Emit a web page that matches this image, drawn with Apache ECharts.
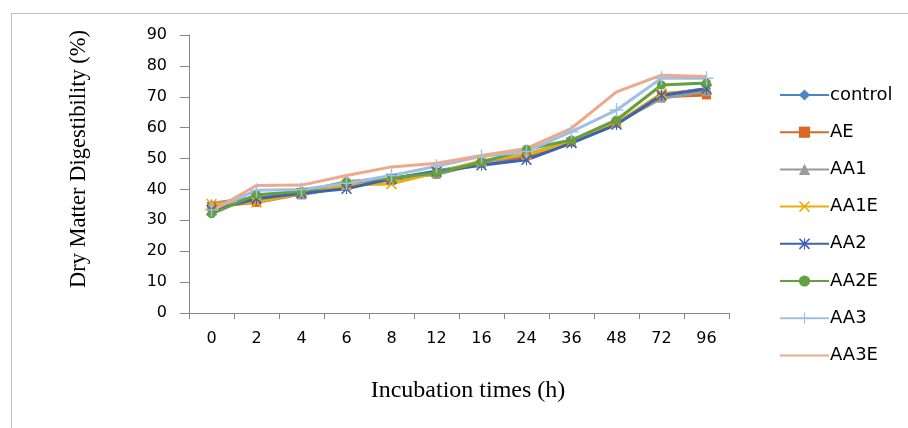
<!DOCTYPE html>
<html><head><meta charset="utf-8">
<script src="https://cdn.jsdelivr.net/npm/echarts@6/dist/echarts.min.js"></script>
<style>html,body{margin:0;padding:0;background:#fff}#c{width:908px;height:428px}</style>
</head><body><div id="c"></div>
<script>
const categories = ['0','2','4','6','8','12','16','24','36','48','72','96'];
const control = [33.5, 37.0, 39.0, 41.0, 43.5, 46.0, 48.5, 50.5, 55.5, 61.4, 70.6, 72.7];
const AE      = [34.5, 35.8, 38.5, 41.5, 43.0, 45.5, 48.5, 51.0, 55.3, 61.5, 70.0, 70.6];
const AA1     = [35.5, 37.5, 38.2, 41.0, 43.5, 44.8, 48.5, 51.5, 55.5, 61.5, 69.5, 71.7];
const AA1E    = [35.3, 35.8, 38.8, 41.5, 41.8, 45.5, 49.3, 51.3, 55.3, 61.5, 71.1, 72.2];
const AA2     = [33.3, 37.0, 38.8, 40.2, 43.5, 45.8, 47.8, 49.6, 55.0, 61.0, 70.5, 72.5];
const AA2E    = [32.1, 38.3, 39.3, 42.5, 43.7, 45.3, 48.8, 53.0, 56.0, 62.5, 73.8, 74.5];
const AA3     = [33.4, 39.7, 40.0, 42.0, 44.5, 47.5, 50.7, 52.3, 58.7, 65.7, 76.0, 76.0];
const AA3E    = [33.0, 41.3, 41.4, 44.5, 47.3, 48.5, 51.0, 53.3, 59.8, 71.6, 77.0, 76.6];
const yTicks = [0,10,20,30,40,50,60,70,80,90];

const X_PATH = 'path://M0,1L1,0L10,9L9,10Z M9,0L10,1L1,10L0,9Z';
const STAR_PATH = 'path://M0,1L1,0L10,9L9,10Z M9,0L10,1L1,10L0,9Z M4.5,0L5.5,0L5.5,10L4.5,10Z';
const PLUS_PATH = 'path://M4.5,0L5.5,0L5.5,10L4.5,10Z M0,4.5L10,4.5L10,5.5L0,5.5Z';

const seriesDefs = [
  ['control', control, '#4a86c5', 'diamond', 9],
  ['AE', AE, '#d96a26', 'rect', 9],
  ['AA1', AA1, '#9a9a9a', 'triangle', 9],
  ['AA1E', AA1E, '#e9ad0c', X_PATH, 11],
  ['AA2', AA2, '#3b63b2', STAR_PATH, 11],
  ['AA2E', AA2E, '#63a03f', 'circle', 9],
  ['AA3', AA3, '#9fc0e4', PLUS_PATH, 14],
  ['AA3E', AA3E, '#f0a88c', 'circle', 0]
];

const chart = echarts.init(document.getElementById('c'), null, {renderer:'canvas'});
chart.setOption({
  animation: false,
  backgroundColor: '#fff',
  grid: {left: 189, right: 179, top: 35, bottom: 115, containLabel: false},
  legend: {
    orient: 'vertical', left: 774, top: 81,
    itemWidth: 49, itemHeight: 14, itemGap: 19.2,
    textStyle: {fontFamily: 'DejaVu Sans', fontSize: 18, color: '#000', padding: [0,0,0,-4]},
    data: seriesDefs.map(d => d[0])
  },
  xAxis: {
    type: 'category', data: categories, boundaryGap: true,
    axisLine: {lineStyle: {color: '#868686', width: 1}},
    axisTick: {show: true, length: 6, lineStyle: {color: '#868686'}},
    axisLabel: {color: '#000', fontSize: 16, fontFamily: 'DejaVu Sans', margin: 18},
    splitLine: {show: false}
  },
  yAxis: {
    type: 'value', min: 0, max: 90, interval: 10,
    axisLine: {show: true, lineStyle: {color: '#868686', width: 1}},
    axisTick: {show: true, length: 9, lineStyle: {color: '#868686'}},
    axisLabel: {color: '#000', fontSize: 16, fontFamily: 'DejaVu Sans', margin: 22,
      formatter: v => yTicks.includes(v) ? String(v) : ''},
    splitLine: {show: false}
  },
  series: seriesDefs.map(d => ({
    name: d[0], type: 'line', data: d[1],
    symbol: d[3], symbolSize: d[4], showSymbol: d[4] > 0,
    lineStyle: {color: d[2], width: 3},
    itemStyle: {color: d[2], opacity: d[4] > 0 ? 1 : 0},
    emphasis: {disabled: true}
  })),
  graphic: [
    {type: 'line', shape: {x1: 11, y1: 13.5, x2: 908, y2: 13.5}, style: {stroke: '#c0c0c0', lineWidth: 1}},
    {type: 'line', shape: {x1: 11.5, y1: 13, x2: 11.5, y2: 428}, style: {stroke: '#c0c0c0', lineWidth: 1}},
    {type: 'text', x: 468, y: 391, style: {text: 'Incubation times (h)', fontFamily: 'Liberation Serif', fontSize: 24, fill: '#000', textAlign: 'center', textVerticalAlign: 'middle'}},
    {type: 'text', x: 79, y: 159, rotation: Math.PI/2, style: {text: 'Dry Matter Digestibility (%)', fontFamily: 'Liberation Serif', fontSize: 22.5, fill: '#000', textAlign: 'center', textVerticalAlign: 'middle'}}
  ]
});
</script>
</body></html>
